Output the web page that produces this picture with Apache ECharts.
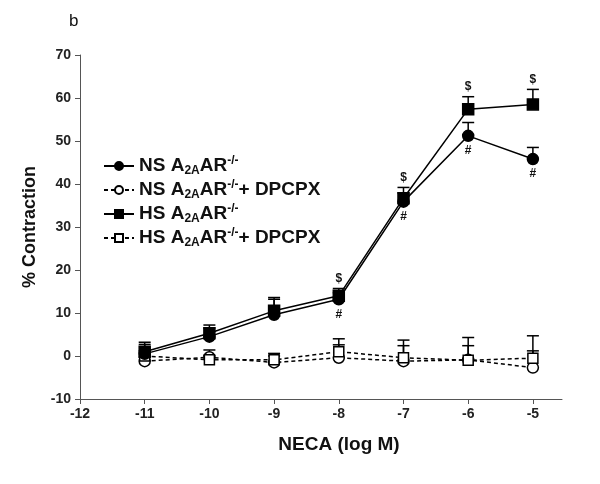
<!DOCTYPE html>
<html><head><meta charset="utf-8">
<script src="https://cdn.jsdelivr.net/npm/echarts@6/dist/echarts.min.js"></script>
<style>html,body{margin:0;padding:0;background:#fff}#c{width:600px;height:484px}</style>
</head><body><div id="c"></div>
<script>
const doses = [-11, -10, -9, -8, -7, -6, -5];
const nsVals = [0.5, 4.5, 9.6, 13.2, 35.9, 51.2, 45.8];
const nsErr  = [2.2, 2.0, 3.6, 1.5, 2.0, 3.1, 2.7];
const nsDVals = [-1.2, -0.3, -1.5, -0.4, -1.2, -0.9, -2.7];
const nsDErr  = [1.0, 1.7, 1.5, 3.0, 3.6, 3.3, 3.9];
const hsVals = [1.0, 5.3, 10.5, 14.0, 36.7, 57.4, 58.5];
const hsErr  = [2.2, 1.9, 3.1, 1.7, 2.5, 2.9, 3.5];
const hsDVals = [0.0, -0.9, -0.9, 1.0, -0.4, -1.0, -0.5];
const hsDErr  = [1.2, 1.0, 1.5, 3.0, 4.1, 5.3, 5.2];
const dollarDoses = [-8, -7, -6, -5];   // "$" above HS
const hashDoses = [-8, -7, -6, -5];     // "#" below NS
const xTicks = [-12, -11, -10, -9, -8, -7, -6, -5];
const names = ['NS', 'NS_D', 'HS', 'HS_D'];

const FONT = 'Liberation Sans, Arial, sans-serif';
const chart = echarts.init(document.getElementById('c'), null, {renderer: 'canvas'});

function pts(vals) { return doses.map((d, i) => [d, vals[i]]); }
function errData(vals, errs) { return doses.map((d, i) => [d, vals[i], errs[i]]); }

function errSeries(vals, errs) {
  return {
    type: 'custom', silent: true, z: 1,
    data: errData(vals, errs),
    renderItem: function (params, api) {
      const x = api.value(0), y = api.value(1), e = api.value(2);
      const p0 = api.coord([x, y]);
      const p1 = api.coord([x, y + e]);
      const w = 6;
      return {
        type: 'group', children: [
          {type: 'line', shape: {x1: p0[0], y1: p0[1], x2: p1[0], y2: p1[1]}, style: {stroke: '#000', lineWidth: 1.5}},
          {type: 'line', shape: {x1: p1[0] - w, y1: p1[1], x2: p1[0] + w, y2: p1[1]}, style: {stroke: '#000', lineWidth: 1.5}}
        ]
      };
    }
  };
}

function lineSeries(name, vals, symbol, filled, dashed, size) {
  return {
    name: name, type: 'line', data: pts(vals), z: 3,
    symbol: symbol, symbolSize: size, showSymbol: true,
    lineStyle: {color: '#000', width: 1.5, type: dashed ? [4, 3] : 'solid'},
    itemStyle: {color: filled ? '#000' : '#fff', borderColor: '#000', borderWidth: 1.5},
    emphasis: {disabled: true}, animation: false
  };
}

function textSeries(ds, vals, errs, txt, dy) {
  return {
    type: 'custom', silent: true, z: 4,
    data: ds.map(d => { const i = doses.indexOf(d); return [d, vals[i] + (errs ? errs[i] : 0)]; }),
    renderItem: function (params, api) {
      const p = api.coord([api.value(0), api.value(1)]);
      return {type: 'text', style: {text: txt, x: p[0], y: p[1] + dy, align: 'center', verticalAlign: 'middle',
        font: 'bold 12px ' + FONT, fill: '#111'}};
    }
  };
}

const rich = {
  m: {fontFamily: FONT, fontWeight: 'bold', fontSize: 19, color: '#111', lineHeight: 22},
  s: {fontFamily: FONT, fontWeight: 'bold', fontSize: 12, color: '#111', lineHeight: 10, verticalAlign: 'bottom'},
  p: {fontFamily: FONT, fontWeight: 'bold', fontSize: 12, color: '#111', lineHeight: 10, verticalAlign: 'top'}
};
const legendText = {
  NS: '{m|NS A}{s|2A}{m|AR}{p|-/-}',
  NS_D: '{m|NS A}{s|2A}{m|AR}{p|-/-}{m|+ DPCPX}',
  HS: '{m|HS A}{s|2A}{m|AR}{p|-/-}',
  HS_D: '{m|HS A}{s|2A}{m|AR}{p|-/-}{m|+ DPCPX}'
};

chart.setOption({
  animation: false,
  backgroundColor: '#fff',
  title: {text: 'b', left: 64, top: 8, textStyle: {fontFamily: FONT, fontWeight: 'normal', fontSize: 17, color: '#111'}},
  grid: {left: 80, right: 38, top: 55, bottom: 85},
  legend: {
    data: names, orient: 'vertical', left: 98, top: 150, itemGap: 2, itemWidth: 30, itemHeight: 10,
    formatter: n => legendText[n], textStyle: {rich: rich}, selectedMode: false
  },
  xAxis: {
    type: 'value', min: -12, max: -4.55, interval: 1,
    name: 'NECA (log M)', nameLocation: 'middle', nameGap: 36,
    nameTextStyle: {fontFamily: FONT, fontWeight: 'bold', fontSize: 19, color: '#111', padding: [0, 0, 0, 36]},
    axisLine: {onZero: false, lineStyle: {color: '#555', width: 1}},
    axisTick: {show: true, length: 5, lineStyle: {color: '#555'}},
    axisLabel: {fontFamily: FONT, fontWeight: 'bold', fontSize: 14, color: '#222', margin: 8,
      showMaxLabel: false, formatter: v => xTicks.indexOf(v) >= 0 ? String(v) : ''},
    splitLine: {show: false}
  },
  yAxis: {
    type: 'value', min: -10, max: 70, interval: 10,
    name: '% Contraction', nameLocation: 'middle', nameGap: 41,
    nameTextStyle: {fontFamily: FONT, fontWeight: 'bold', fontSize: 18, color: '#111'},
    axisLine: {show: true, onZero: false, lineStyle: {color: '#555', width: 1}},
    axisTick: {show: true, length: 5, lineStyle: {color: '#555'}},
    axisLabel: {fontFamily: FONT, fontWeight: 'bold', fontSize: 14, color: '#222', margin: 9},
    splitLine: {show: false}
  },
  series: [
    errSeries(nsDVals, nsDErr), errSeries(hsDVals, hsDErr),
    errSeries(nsVals, nsErr), errSeries(hsVals, hsErr),
    lineSeries('NS_D', nsDVals, 'circle', false, true, 11),
    lineSeries('HS_D', hsDVals, 'rect', false, true, 10),
    lineSeries('NS', nsVals, 'circle', true, false, 11),
    lineSeries('HS', hsVals, 'rect', true, false, 11),
    textSeries(dollarDoses, hsVals, hsErr, '$', -10),
    textSeries(hashDoses, nsVals, null, '#', 15)
  ]
});
</script></body></html>
